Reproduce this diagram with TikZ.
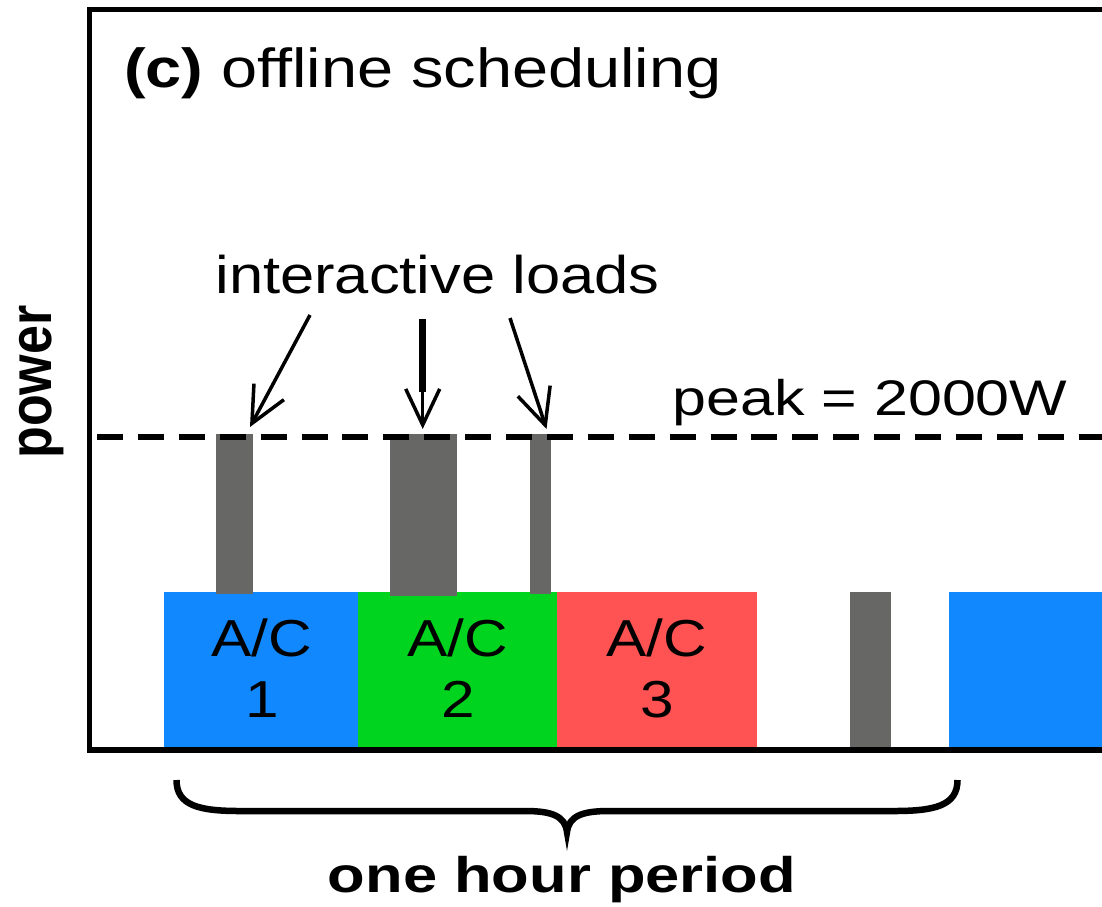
\documentclass[tikz,border=0pt]{standalone}
\usepackage{fontspec}
\setmainfont{Liberation Sans}
\usetikzlibrary{arrows.meta}
\definecolor{acblue}{RGB}{18,136,255}
\definecolor{acgreen}{RGB}{0,212,30}
\definecolor{acred}{RGB}{255,82,82}
\definecolor{loadgray}{RGB}{103,103,101}
\begin{document}
\begin{tikzpicture}[x=1pt,y=-1pt,
  lbl/.style={inner sep=0pt,outer sep=0pt,transform shape},
  loadbar/.style={fill=loadgray},
  arr/.style={line width=3.5pt,-{Straight Barb[length=36pt,width=34pt]}},
  framel/.style={line width=#1,line cap=butt},
]
\useasboundingbox (0,0) rectangle (1102,906);
\clip (0,0) rectangle (1102,906);

% A/C blocks
\fill[acblue]  (164,591.5) rectangle (358,748);
\fill[acgreen] (358,591.5) rectangle (556.5,748);
\fill[acred]   (556.5,591.5) rectangle (757,748);
\fill[acblue]  (949,591.5) rectangle (1110,748);

% interactive load bars
\fill[loadbar] (215.5,434) rectangle (253,593.5);
\fill[loadbar] (389.5,434) rectangle (456.5,595.5);
\fill[loadbar] (529.5,434) rectangle (551,593.5);
\fill[loadbar] (850,591.5) rectangle (890.5,748);

% frame
\draw[framel=4.5pt] (87,9.5) -- (1110,9.5);
\draw[framel=5.5pt] (89.7,7.25) -- (89.7,753);
\draw[framel=6.5pt] (87,750) -- (1110,750);

% peak line
\draw[line width=5.5pt, dash pattern=on 26pt off 14.9pt] (97,437) -- (1110,437);

% labels
\coordinate (ptitle) at (124,87);
\node[lbl,xscale=1.18,anchor=base west,font=\fontsize{55}{60}\selectfont] (title) at (ptitle) {\textbf{(c)} offline scheduling};

\coordinate (pinter) at (437.5,293);
\node[lbl,xscale=1.16,anchor=base,font=\fontsize{53}{60}\selectfont] (inter) at (pinter) {interactive loads};

\coordinate (ppeak) at (870,415);
\node[lbl,xscale=1.22,anchor=base,font=\fontsize{50}{60}\selectfont] (peak) at (ppeak) {peak = 2000W};

\coordinate (ppower) at (51.7,382);
\node[lbl,xscale=1.15,rotate=90,anchor=base,font=\fontsize{52}{60}\selectfont\bfseries] (power) at (ppower) {power};

\coordinate (pone) at (562,892);
\node[lbl,xscale=1.23,anchor=base,font=\fontsize{50}{60}\selectfont\bfseries] (onehour) at (pone) {one hour period};

\coordinate (pac1a) at (262,656);
\coordinate (pac1b) at (262,717);
\coordinate (pac2a) at (458,656);
\coordinate (pac2b) at (458,717);
\coordinate (pac3a) at (657,656);
\coordinate (pac3b) at (657,717);
\foreach \i/\t in {ac1a/A\slash C,ac1b/1,ac2a/A\slash C,ac2b/2,ac3a/A\slash C,ac3b/3}{
  \node[lbl,xscale=1.16,anchor=base,font=\fontsize{52}{60}\selectfont] (\i) at (p\i) {\t};
}

% arrows
\coordinate (a1s) at (310,315);
\coordinate (a1e) at (250,427);
\coordinate (a2s) at (422.7,319);
\coordinate (a2m) at (422.7,392);
\coordinate (a2e) at (422.7,429);
\coordinate (a3s) at (510,318);
\coordinate (a3e) at (546.5,429);
\draw[arr] (a1s) -- (a1e);
\draw[line width=7pt] (a2s) -- (a2m);
\draw[arr] (a2s) -- (a2e);
\draw[arr] (a3s) -- (a3e);

% brace
\coordinate (bl) at (176.5,780);
\coordinate (bt) at (567,832);
\coordinate (br) at (957.5,780);
\draw[line width=6.5pt] (bl) .. controls (176.5,806) and (200,811) .. (240,811) -- (525,811)
  .. controls (552,811) and (565,816) .. (bt)
  .. controls (569,816) and (582,811) .. (609,811) -- (894,811)
  .. controls (934,811) and (957.5,806) .. (br);
\end{tikzpicture}
\end{document}
